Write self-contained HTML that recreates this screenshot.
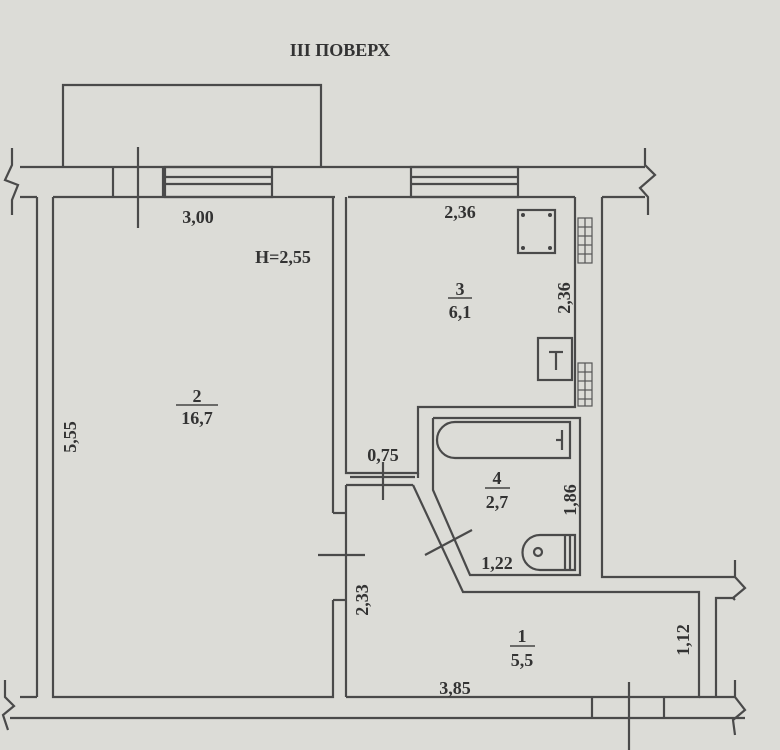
<!DOCTYPE html>
<html><head><meta charset="utf-8"><style>
html,body{margin:0;padding:0;background:#dcdcd7;}
svg{display:block}
text{font-family:"Liberation Serif",serif;font-weight:bold;fill:#333;font-size:18px}
</style></head><body>
<svg width="780" height="750" viewBox="0 0 780 750" xmlns="http://www.w3.org/2000/svg">
<rect width="780" height="750" fill="#dcdcd7"/>
<g stroke="#4a4a4a" stroke-width="2.2" fill="none">
<polyline points="63,167 63,85 321,85 321,167"/>
<line x1="20" y1="167" x2="645" y2="167"/>
<line x1="20" y1="197" x2="37" y2="197"/>
<line x1="53" y1="197" x2="335" y2="197"/>
<line x1="348" y1="197" x2="575" y2="197"/>
<line x1="602" y1="197" x2="645" y2="197"/>
<polyline points="12,148 12,165 5,180 18,185 12,200 12,215"/>
<polyline points="645,148 645,165 655,175 640,188 648,197 648,215"/>
<line x1="113" y1="167" x2="113" y2="197"/>
<line x1="163" y1="167" x2="163" y2="197"/>
<line x1="138" y1="147" x2="138" y2="228"/>
<rect x="165" y="167" width="107" height="30"/>
<line x1="165" y1="177" x2="272" y2="177"/>
<line x1="165" y1="184" x2="272" y2="184"/>
<rect x="411" y="167" width="107" height="30"/>
<line x1="411" y1="177" x2="518" y2="177"/>
<line x1="411" y1="184" x2="518" y2="184"/>
<line x1="37" y1="197" x2="37" y2="697"/>
<line x1="20" y1="697" x2="37" y2="697"/>
<polyline points="53,197 53,697 333,697 333,600"/>
<line x1="333" y1="197" x2="333" y2="513"/>
<polyline points="346,197 346,473 418,473 418,407 575,407 575,197"/>
<line x1="346" y1="485" x2="346" y2="697"/>
<line x1="333" y1="513" x2="346" y2="513"/>
<line x1="333" y1="600" x2="346" y2="600"/>
<line x1="318" y1="555" x2="365" y2="555"/>
<line x1="346" y1="485" x2="413" y2="485"/>
<line x1="350" y1="477" x2="415" y2="477"/>
<line x1="383" y1="462" x2="383" y2="500"/>
<polyline points="413,485 463,592 699,592 699,697 346,697"/>
<polyline points="433,418 580,418 580,575 470,575 433,490 433,418"/>
<line x1="418" y1="473" x2="418" y2="478"/>
<line x1="425" y1="555" x2="472" y2="530"/>
<polyline points="602,197 602,577 735,577"/>
<polyline points="735,560 735,577 745,588 733,598 735,600"/>
<polyline points="716,697 716,598 735,598"/>
<polyline points="735,680 735,697 745,710 733,720 735,735"/>
<line x1="699" y1="697" x2="735" y2="697"/>
<line x1="10" y1="718" x2="745" y2="718"/>
<polyline points="5,680 5,697 14,706 3,715 8,730"/>
<line x1="592" y1="697" x2="592" y2="718"/>
<line x1="664" y1="697" x2="664" y2="718"/>
<line x1="629" y1="682" x2="629" y2="750"/>
<rect x="518" y="210" width="37" height="43"/>
<rect x="538" y="338" width="34" height="42"/>
<line x1="556" y1="352" x2="556" y2="370"/>
<line x1="549" y1="352" x2="563" y2="352"/>
<path d="M455,422 L570,422 L570,458 L455,458 A18 18 0 0 1 455,422 Z"/>
<line x1="562" y1="430" x2="562" y2="450"/>
<line x1="556" y1="440" x2="562" y2="440"/>
<path d="M575,535 L540,535 A17 17 0 0 0 540,570 L575,570 Z"/>
<line x1="565" y1="535" x2="565" y2="570"/>
<line x1="570" y1="535" x2="570" y2="570"/>
<circle cx="538" cy="552" r="4"/>
</g>
<g stroke="#555" stroke-width="1.2" fill="none">
<rect x="578" y="218" width="14" height="45"/>
<line x1="585" y1="218" x2="585" y2="263"/>
<line x1="578" y1="227" x2="592" y2="227"/><line x1="578" y1="236" x2="592" y2="236"/>
<line x1="578" y1="245" x2="592" y2="245"/><line x1="578" y1="254" x2="592" y2="254"/>
<rect x="578" y="363" width="14" height="43"/>
<line x1="585" y1="363" x2="585" y2="406"/>
<line x1="578" y1="372" x2="592" y2="372"/><line x1="578" y1="381" x2="592" y2="381"/>
<line x1="578" y1="390" x2="592" y2="390"/><line x1="578" y1="399" x2="592" y2="399"/>
</g>
<g fill="#444">
<circle cx="523" cy="215" r="2"/><circle cx="550" cy="215" r="2"/>
<circle cx="523" cy="248" r="2"/><circle cx="550" cy="248" r="2"/>
</g>
<g stroke="#444" stroke-width="1.5">
<line x1="448" y1="298" x2="472" y2="298"/>
<line x1="176" y1="405" x2="218" y2="405"/>
<line x1="485" y1="488" x2="510" y2="488"/>
<line x1="510" y1="646" x2="535" y2="646"/>
</g>
<text x="340" y="56" text-anchor="middle" font-size="19">III ПОВЕРХ</text>
<text x="198" y="223" text-anchor="middle">3,00</text>
<text x="283" y="263" text-anchor="middle">H=2,55</text>
<text x="460" y="218" text-anchor="middle">2,36</text>
<text x="460" y="295" text-anchor="middle">3</text>
<text x="460" y="318" text-anchor="middle">6,1</text>
<text x="197" y="402" text-anchor="middle">2</text>
<text x="197" y="424" text-anchor="middle">16,7</text>
<text x="383" y="461" text-anchor="middle">0,75</text>
<text x="497" y="484" text-anchor="middle">4</text>
<text x="497" y="508" text-anchor="middle">2,7</text>
<text x="497" y="569" text-anchor="middle">1,22</text>
<text x="522" y="642" text-anchor="middle">1</text>
<text x="522" y="666" text-anchor="middle">5,5</text>
<text x="455" y="694" text-anchor="middle">3,85</text>
<text transform="translate(570,298) rotate(-90)" text-anchor="middle">2,36</text>
<text transform="translate(76,437) rotate(-90)" text-anchor="middle">5,55</text>
<text transform="translate(576,500) rotate(-90)" text-anchor="middle">1,86</text>
<text transform="translate(368,600) rotate(-90)" text-anchor="middle">2,33</text>
<text transform="translate(689,640) rotate(-90)" text-anchor="middle">1,12</text>
</svg>
</body></html>
